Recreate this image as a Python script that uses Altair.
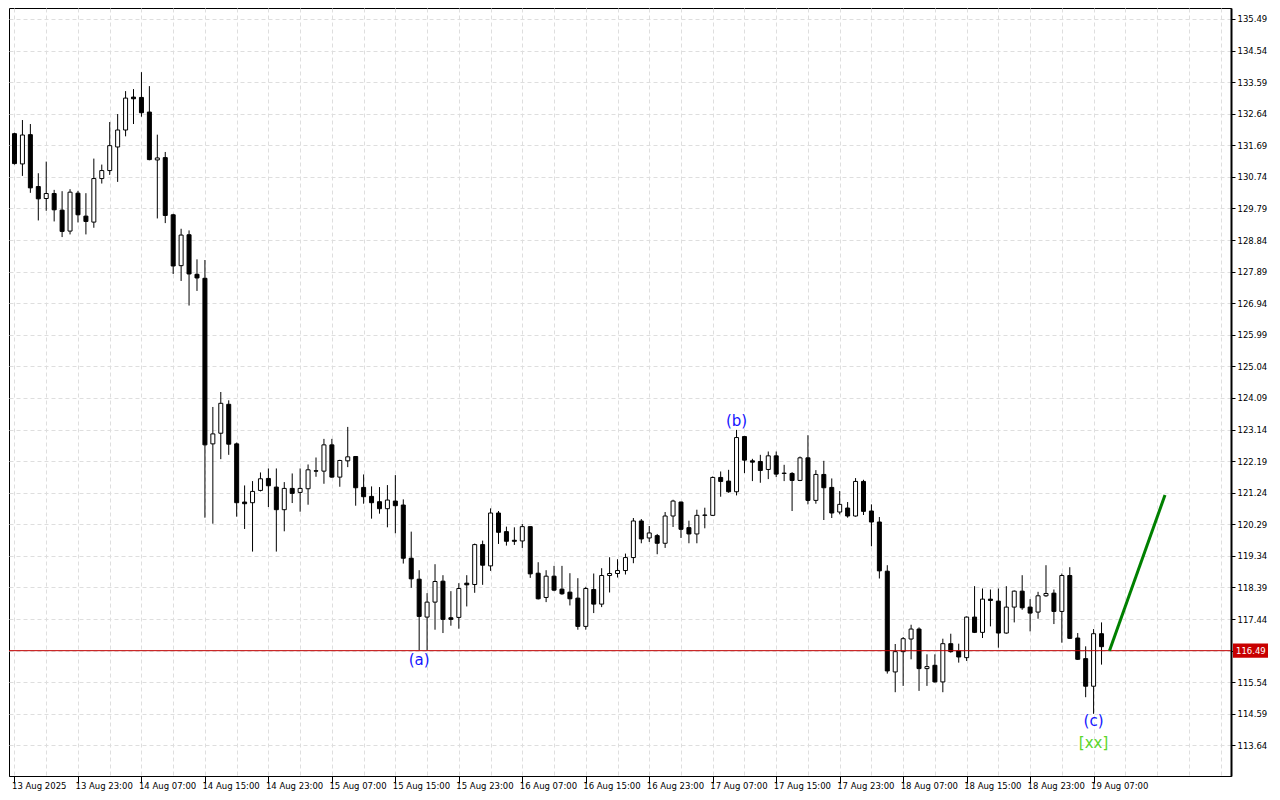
import json
import altair as alt
import pandas as pd

# ---------------- data (hourly candles) ----------------
opens = [132.04, 131.13, 132.01, 130.45, 130.09, 130.24, 129.74, 129.11, 130.25, 129.56,
         129.38, 130.69, 130.93, 131.64, 132.15, 133.14, 133.13, 132.69, 131.25, 131.32,
         129.60, 128.07, 129.00, 127.81, 127.69, 122.71, 123.03, 123.90, 122.71, 120.96,
         120.94, 121.31, 121.67, 121.41, 120.73, 121.37, 121.25, 121.36, 121.90, 121.89,
         122.68, 121.71, 122.20, 122.33, 121.40, 121.13, 120.97, 120.76, 120.99, 120.87,
         119.27, 118.64, 117.50, 117.95, 118.58, 117.48, 117.49, 118.52, 118.48, 119.68,
         119.04, 120.63, 120.07, 119.81, 119.79, 120.22, 118.82, 118.09, 118.73, 118.34,
         118.25, 118.07, 117.22, 118.33, 117.89, 118.75, 118.81, 118.90, 119.29, 120.39,
         119.88, 119.95, 119.72, 120.54, 120.96, 120.19, 120.00, 120.56, 120.56, 121.70,
         121.59, 121.27, 122.93, 122.20, 122.18, 121.94, 122.35, 121.82, 121.82, 121.61,
         122.29, 121.01, 121.79, 121.40, 120.66, 120.78, 120.54, 121.58, 120.69, 120.36,
         118.88, 115.85, 116.46, 116.84, 117.14, 115.95, 116.05, 115.55, 116.70, 116.48,
         116.28, 117.50, 117.04, 118.04, 117.98, 117.02, 117.80, 118.28, 117.80, 117.65,
         118.14, 118.22, 117.67, 118.75, 116.87, 116.25, 115.42, 117.00]

highs = [132.07, 132.45, 132.33, 130.85, 131.20, 130.35, 130.31, 130.37, 130.32, 130.25,
         131.29, 131.11, 132.39, 132.63, 133.32, 133.38, 133.89, 133.47, 132.01, 131.49,
         129.63, 129.18, 129.13, 128.26, 128.24, 123.82, 124.27, 124.02, 122.75, 121.46,
         121.59, 121.85, 121.97, 121.97, 121.56, 121.82, 121.97, 122.09, 122.30, 122.86,
         122.86, 122.23, 123.22, 122.33, 121.79, 121.43, 121.41, 121.47, 121.77, 121.04,
         120.07, 118.91, 118.22, 119.09, 118.76, 118.28, 118.52, 118.76, 119.71, 119.80,
         120.77, 120.69, 120.22, 120.20, 120.30, 120.22, 119.15, 118.91, 119.04, 119.04,
         118.82, 118.67, 118.41, 118.81, 118.97, 119.30, 119.24, 119.41, 120.48, 120.45,
         120.24, 120.00, 120.66, 121.03, 120.97, 120.40, 120.73, 120.79, 121.73, 121.88,
         121.93, 123.13, 122.95, 122.26, 122.38, 122.48, 122.48, 122.08, 121.86, 122.33,
         122.97, 121.92, 122.20, 121.67, 121.29, 120.96, 121.68, 121.63, 120.89, 120.51,
         119.06, 116.69, 116.90, 117.27, 117.19, 116.38, 116.38, 116.85, 117.00, 116.70,
         117.52, 118.43, 118.36, 118.33, 118.36, 118.43, 118.30, 118.76, 118.04, 118.26,
         119.06, 118.33, 118.81, 119.00, 117.02, 116.62, 117.14, 117.34]

lows = [131.11, 130.77, 130.26, 129.43, 129.72, 129.40, 128.93, 129.01, 129.37, 129.01,
        129.21, 130.54, 130.80, 130.59, 131.96, 132.33, 132.55, 131.24, 129.49, 129.35,
        127.82, 127.61, 126.87, 127.31, 120.49, 120.31, 122.25, 122.38, 120.52, 120.15,
        119.47, 121.28, 120.81, 119.47, 120.08, 120.93, 120.67, 120.88, 121.72, 121.51,
        121.69, 121.42, 122.01, 120.85, 120.91, 120.46, 120.61, 120.20, 120.02, 119.11,
        118.38, 116.50, 116.50, 117.12, 117.02, 117.24, 117.15, 117.82, 118.23, 118.47,
        118.89, 119.70, 119.65, 119.67, 119.58, 118.68, 118.03, 117.95, 118.28, 118.17,
        117.85, 117.12, 117.12, 117.62, 117.80, 118.24, 118.69, 118.78, 119.12, 119.72,
        119.76, 119.39, 119.58, 120.21, 119.88, 119.72, 119.72, 120.17, 120.54, 121.12,
        121.24, 121.16, 121.83, 121.59, 121.54, 121.65, 121.71, 121.59, 120.69, 121.59,
        120.89, 120.91, 120.42, 120.48, 120.59, 120.49, 120.52, 120.57, 119.63, 118.66,
        115.80, 115.24, 115.43, 116.23, 115.28, 115.43, 115.53, 115.24, 116.43, 116.13,
        116.18, 117.02, 116.87, 117.22, 116.58, 117.00, 117.34, 117.72, 117.07, 117.45,
        118.11, 117.29, 116.73, 116.84, 116.21, 115.09, 114.59, 116.07]

closes = [131.14, 132.00, 130.41, 130.08, 130.24, 129.75, 129.10, 130.28, 129.60, 129.40,
          130.69, 130.93, 131.68, 132.15, 133.11, 133.09, 132.67, 131.26, 131.31, 129.58,
          128.06, 128.99, 127.82, 127.70, 122.68, 123.01, 123.93, 122.70, 120.94, 120.91,
          121.28, 121.66, 121.45, 120.73, 121.37, 121.22, 121.37, 121.93, 121.89, 122.68,
          121.71, 122.21, 122.32, 121.39, 121.12, 120.94, 120.76, 121.02, 120.85, 119.27,
          118.65, 117.52, 117.95, 118.57, 117.43, 117.43, 118.36, 118.47, 119.68, 119.06,
          120.63, 120.05, 119.78, 119.78, 120.22, 118.80, 118.05, 118.73, 118.31, 118.20,
          118.05, 117.22, 118.36, 117.89, 118.75, 118.81, 118.90, 119.29, 120.39, 119.85,
          120.03, 119.72, 120.54, 120.99, 120.14, 120.00, 120.56, 120.57, 121.70, 121.58,
          121.27, 122.90, 122.22, 122.16, 121.91, 122.35, 121.80, 121.83, 121.61, 122.29,
          121.01, 121.79, 121.39, 120.63, 120.89, 120.54, 121.58, 120.68, 120.36, 118.89,
          115.88, 116.46, 116.85, 117.14, 115.95, 116.01, 115.55, 116.70, 116.46, 116.30,
          117.50, 117.04, 118.04, 118.00, 117.02, 117.80, 118.28, 117.78, 117.62, 118.14,
          118.21, 117.67, 118.75, 116.86, 116.23, 115.42, 117.00, 116.61]

bar_index = list(range(len(opens)))  # one bar per hour, starting 13 Aug 2025 15:00

x_tick_labels = ["13 Aug 2025", "13 Aug 23:00", "14 Aug 07:00", "14 Aug 15:00",
                 "14 Aug 23:00", "15 Aug 07:00", "15 Aug 15:00", "15 Aug 23:00",
                 "16 Aug 07:00", "16 Aug 15:00", "16 Aug 23:00", "17 Aug 07:00",
                 "17 Aug 15:00", "17 Aug 23:00", "18 Aug 07:00", "18 Aug 15:00",
                 "18 Aug 23:00", "19 Aug 07:00"]
x_grid_values = list(range(0, 153, 4))

y_tick_values = [113.64, 114.59, 115.54, 116.49, 117.44, 118.39, 119.34, 120.29,
                 121.24, 122.19, 123.14, 124.09, 125.04, 125.99, 126.94, 127.89,
                 128.84, 129.79, 130.74, 131.69, 132.64, 133.59, 134.54, 135.49]

wave_labels = ["(a)", "(b)", "(c)"]
wave_bars = [51, 91, 136]
wave_prices = [116.20, 123.40, 114.38]

degree_labels = ["[xx]"]
degree_bars = [136]
degree_prices = [113.70]

arrow_bars = [138, 145]
arrow_prices = [116.49, 121.17]

last_price = 116.49

# ---------------- chart ----------------
W, H = 1222, 768
FONT = "DejaVu Sans"

candles = pd.DataFrame({"k": bar_index, "open": opens, "high": highs,
                        "low": lows, "close": closes})
waves = pd.DataFrame({"k": wave_bars, "price": wave_prices, "label": wave_labels})
degree = pd.DataFrame({"k": degree_bars, "price": degree_prices, "label": degree_labels})
arrow = pd.DataFrame({"k": arrow_bars, "price": arrow_prices})
lastdf = pd.DataFrame({"price": [last_price], "label": [f"{last_price:.2f}"]})

xscale = alt.Scale(domain=[-0.0625, 152.6875], nice=False, zero=False)
yscale = alt.Scale(domain=[112.72, 135.82], nice=False, zero=False)

n_lab = len(x_tick_labels)
labels_js = json.dumps(x_tick_labels)
x_axis = alt.Axis(
    values=x_grid_values,
    labelExpr=f"(datum.value % 8 == 0 && datum.value / 8 < {n_lab}) ? {labels_js}[datum.value / 8] : ''",
    tickColor={"condition": {"test": f"datum.value % 8 == 0 && datum.value / 8 < {n_lab}",
                             "value": "black"}, "value": "transparent"},
    tickSize=7, labelAlign="left", labelBaseline="top", labelPadding=-2, labelOffset=-3,
    labelOverlap=False, labelFlush=False,
    grid=True, gridColor="#dedede", gridDash=[4, 3], gridWidth=1,
    domain=True, domainColor="black", domainWidth=1, title=None,
)
y_axis = alt.Axis(
    orient="right", values=y_tick_values, format=".2f",
    tickSize=4, tickColor="black", labelPadding=2, labelOverlap=False, labelFlush=False,
    grid=True, gridColor="#dedede", gridDash=[4, 3], gridWidth=1,
    domain=True, domainColor="black", domainWidth=2, title=None,
)


def X(field):
    return alt.X(field, scale=xscale, axis=x_axis)


def Y(field):
    return alt.Y(field, scale=yscale, axis=y_axis)


base = alt.Chart(candles)

wicks = base.mark_rule(color="black", strokeWidth=1).encode(
    x=X("k:Q"), y=Y("low:Q"), y2="high:Q",
)

bodies = base.mark_bar(size=4, stroke="black", strokeWidth=1).encode(
    x=X("k:Q"), y=Y("open:Q"), y2="close:Q",
    fill=alt.condition("datum.close < datum.open", alt.value("black"), alt.value("white")),
)

price_line = alt.Chart(lastdf).mark_rule(color="#c00000", strokeWidth=1).encode(
    y=Y("price:Q"),
)

arrow_line = alt.Chart(arrow).mark_line(color="#008000", strokeWidth=3).encode(
    x=X("k:Q"), y=Y("price:Q"),
)

wave_text = alt.Chart(waves).mark_text(
    font=FONT, fontSize=15, color="#1414ff", align="center", baseline="middle"
).encode(x=X("k:Q"), y=Y("price:Q"), text="label:N")

degree_text = alt.Chart(degree).mark_text(
    font=FONT, fontSize=15, color="#5ad62a", align="center", baseline="middle"
).encode(x=X("k:Q"), y=Y("price:Q"), text="label:N")

price_box = alt.Chart(lastdf).transform_calculate(
    lo="datum.price - 0.215", hi="datum.price + 0.215"
).mark_rect(color="#c80000").encode(
    x=alt.value(W + 2), x2=alt.value(W + 37),
    y=Y("lo:Q"), y2="hi:Q",
)

price_text = alt.Chart(lastdf).mark_text(
    font=FONT, fontSize=8.5, color="white", align="left", baseline="middle"
).encode(
    x=alt.value(W + 5), y=Y("price:Q"), text="label:N",
)

chart = alt.layer(
    wicks, bodies, price_line, arrow_line, wave_text, degree_text, price_box, price_text
).properties(
    width=W, height=H,
    padding={"left": 0, "top": 0, "right": 2, "bottom": 2},
    background="white",
).configure_view(
    stroke="black", strokeWidth=1,
).configure_axis(
    labelFont=FONT, labelFontSize=8.5, labelColor="black", labelOverlap=False,
)

chart.save("out.html", embed_options={"renderer": "svg", "actions": False})
